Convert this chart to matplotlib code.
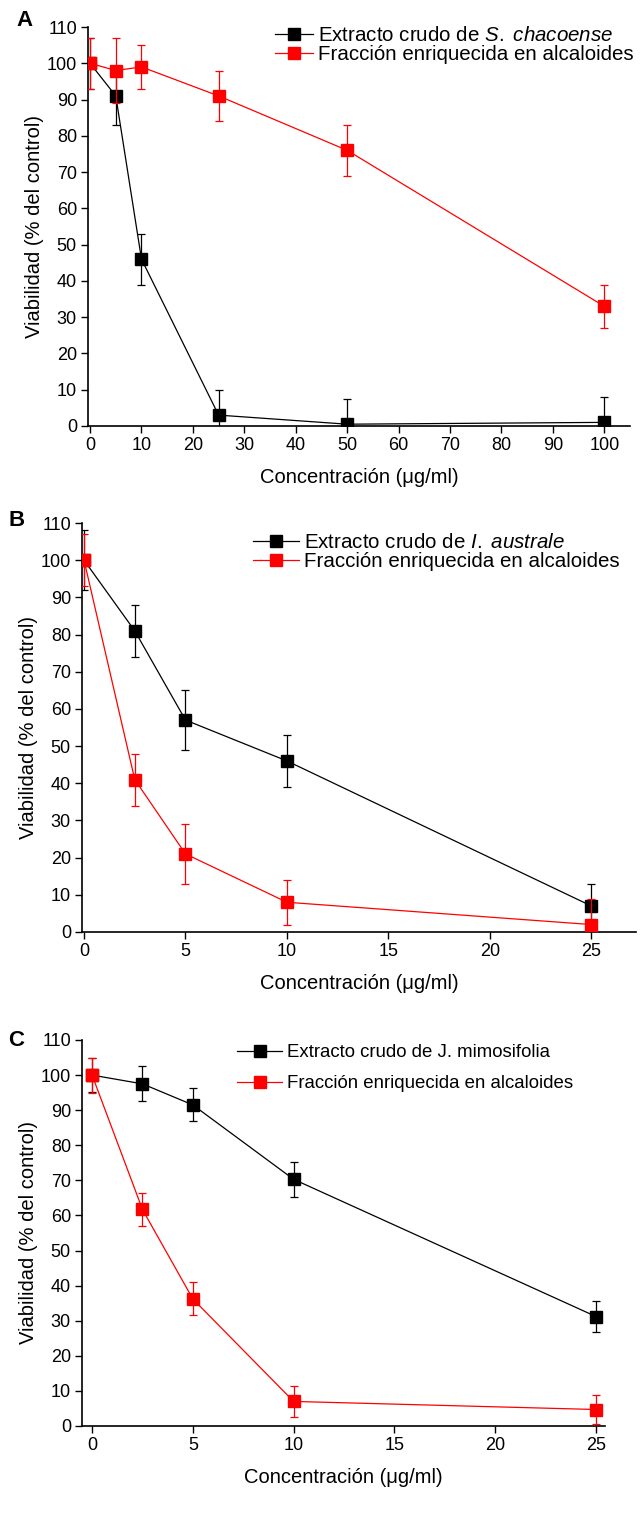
import matplotlib

matplotlib.use("Agg")
import matplotlib.pyplot as plt
from matplotlib.lines import Line2D

plt.rcParams["font.family"] = ["Liberation Sans", "DejaVu Sans"]
plt.rcParams["mathtext.fontset"] = "custom"
plt.rcParams["mathtext.it"] = "Liberation Sans:italic"
plt.rcParams["mathtext.rm"] = "Liberation Sans"

# Panel A: S. chacoense
conc_a = [0, 5, 10, 25, 50, 100]
crude_a = [100, 91, 46, 3, 0.5, 1]
crude_a_err = [7, 8, 7, 7, 7, 7]
alk_a = [100, 98, 99, 91, 76, 33]
alk_a_err = [7, 9, 6, 7, 7, 6]
xticks_a = list(range(0, 101, 10))

# Panel B: I. australe
conc_b = [0, 2.5, 5, 10, 25]
crude_b = [100, 81, 57, 46, 7]
crude_b_err = [8, 7, 8, 7, 6]
alk_b = [100, 41, 21, 8, 2]
alk_b_err = [7, 7, 8, 6, 7]
xticks_b = [0, 5, 10, 15, 20, 25]

# Panel C: J. mimosifolia
conc_c = [0, 2.5, 5, 10, 25]
crude_c = [100, 97.5, 91.5, 70.3, 31.2]
crude_c_err = [4.8, 5.0, 4.7, 5.0, 4.3]
alk_c = [100, 61.7, 36.2, 7.0, 4.7]
alk_c_err = [5.0, 4.7, 4.7, 4.3, 4.0]
xticks_c = [0, 5, 10, 15, 20, 25]

yticks = list(range(0, 111, 10))

W, H = 640, 1522
fig = plt.figure(figsize=(W / 100, H / 100), dpi=100)


def px_axes(left, right, top, bottom):
    return fig.add_axes([left / W, 1 - bottom / H, (right - left) / W, (bottom - top) / H])


def draw_panel(ax, x, crude, crude_err, alk, alk_err, xticks, xlim, labels, legend_xy,
               spacing, legend_size, handle_len):
    ax.errorbar(x, crude, yerr=crude_err, color="black", marker="s", ms=8, lw=0.9,
                elinewidth=0.9, capsize=3, capthick=0.9, zorder=3)
    ax.errorbar(x, alk, yerr=alk_err, color="#ff0000", marker="s", ms=8, lw=0.9,
                elinewidth=0.9, capsize=3, capthick=0.9, zorder=4)
    ax.set_xlim(*xlim)
    ax.set_ylim(0, 110)
    ax.set_xticks(xticks)
    ax.set_yticks(yticks)
    ax.spines["top"].set_visible(False)
    ax.spines["right"].set_visible(False)
    ax.spines["left"].set_linewidth(1.2)
    ax.spines["bottom"].set_linewidth(1.2)
    ax.tick_params(direction="out", length=5, width=1.0, labelsize=13, pad=3)
    ax.set_xlabel("Concentración (μg/ml)", fontsize=14.5, labelpad=10)
    ax.set_ylabel("Viabilidad (% del control)", fontsize=14.5, labelpad=2)
    handles = [
        Line2D([], [], color="black", marker="s", ms=8, lw=0.9),
        Line2D([], [], color="#ff0000", marker="s", ms=8, lw=0.9),
    ]
    ax.legend(handles, labels, loc="upper left",
              bbox_to_anchor=(legend_xy[0] / W, 1 - legend_xy[1] / H),
              bbox_transform=fig.transFigure, frameon=False, fontsize=legend_size,
              handlelength=handle_len, handletextpad=0.25, labelspacing=spacing, borderpad=0)


ax_a = px_axes(88, 630, 27, 426)
draw_panel(ax_a, conc_a, crude_a, crude_a_err, alk_a, alk_a_err, xticks_a, (-0.4, 105),
           ["Extracto crudo de $\\it{S.}$ $\\it{chacoense}$", "Fracción enriquecida en alcaloides"],
           (265, 16), 0.0, 14.8, 1.85)
fig.text(16 / W, 1 - 20 / H, "A", fontsize=16, fontweight="bold", va="center", ha="left")

ax_b = px_axes(82, 636, 523, 932)
draw_panel(ax_b, conc_b, crude_b, crude_b_err, alk_b, alk_b_err, xticks_b, (-0.1, 27.2),
           ["Extracto crudo de $\\it{I.}$ $\\it{australe}$", "Fracción enriquecida en alcaloides"],
           (243, 523), 0.0, 14.8, 2.2)
fig.text(8 / W, 1 - 521 / H, "B", fontsize=16, fontweight="bold", va="center", ha="left")

ax_c = px_axes(82, 605, 1040, 1426)
draw_panel(ax_c, conc_c, crude_c, crude_c_err, alk_c, alk_c_err, xticks_c, (-0.5, 25.45),
           ["Extracto crudo de J. mimosifolia", "Fracción enriquecida en alcaloides"],
           (228, 1035), 0.75, 13.4, 2.4)
fig.text(8 / W, 1 - 1040 / H, "C", fontsize=16, fontweight="bold", va="center", ha="left")

fig.savefig("out.png", dpi=100)
plt.close(fig)
